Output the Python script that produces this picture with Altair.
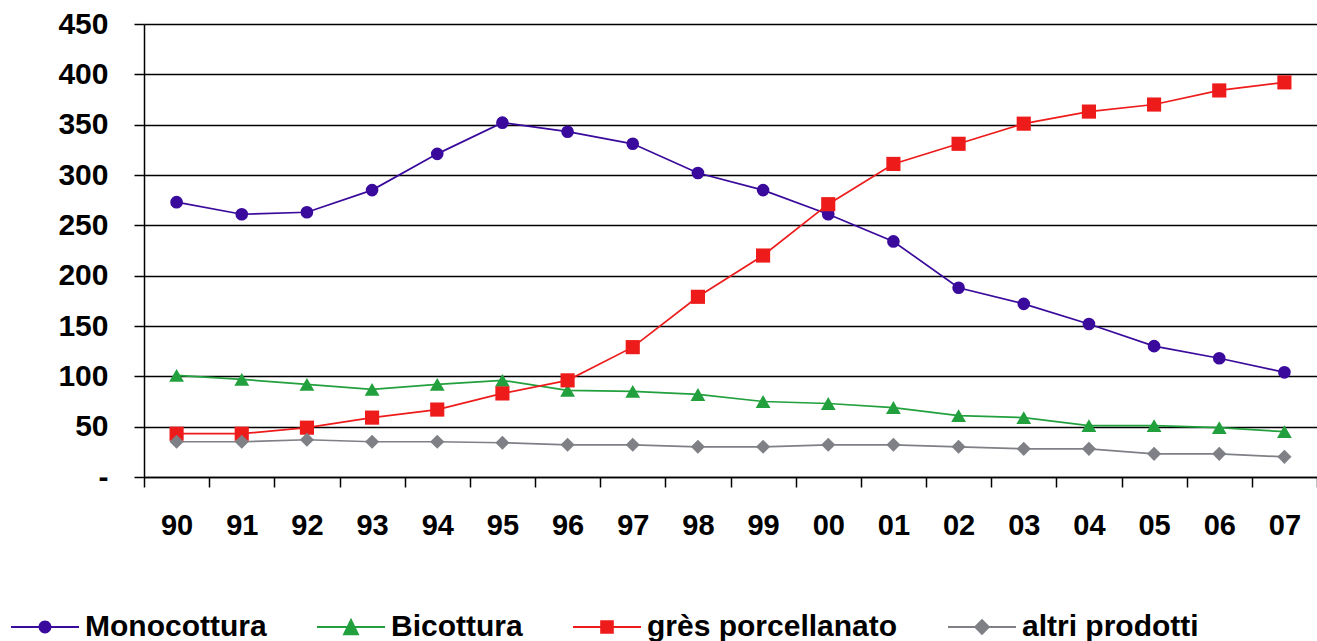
import altair as alt
import pandas as pd

years = ["90", "91", "92", "93", "94", "95", "96", "97", "98", "99",
         "00", "01", "02", "03", "04", "05", "06", "07"]
series = ["Monocottura", "Bicottura", "grès porcellanato", "altri prodotti"]

monocottura = [273, 261, 263, 285, 321, 352, 343, 331, 302, 285,
               261, 234, 188, 172, 152, 130, 118, 104]
bicottura = [101, 97, 92, 87, 92, 96, 86, 85, 82, 75,
             73, 69, 61, 59, 51, 51, 49, 45]
gres = [43, 43, 49, 59, 67, 83, 96, 129, 179, 220,
        271, 311, 331, 351, 363, 370, 384, 392]
altri = [35, 35, 37, 35, 35, 34, 32, 32, 30, 30,
         32, 32, 30, 28, 28, 23, 23, 20]

colors = ["#3A0A9C", "#22A03E", "#EE1B1B", "#7E8086"]
point_shapes = ["circle", "triangle-up", "square", "diamond"]
point_sizes = [160, 220, 200, 200]

LINE = "M-1,-0.03H1V0.03H-1Z"
legend_paths = [
    LINE + "M-0.19,0A0.19,0.19 0 1,1 0.19,0A0.19,0.19 0 1,1 -0.19,0Z",
    LINE + "M0,-0.27L0.25,0.24H-0.25Z",
    LINE + "M-0.2,-0.2H0.2V0.2H-0.2Z",
    LINE + "M0,-0.24L0.24,0L0,0.24L-0.24,0Z",
]

rows = []
for name, vals in zip(series, [monocottura, bicottura, gres, altri]):
    for yr, v in zip(years, vals):
        rows.append({"anno": yr, "valore": v, "serie": name})
df = pd.DataFrame(rows)

FONT = "Liberation Sans"

x_enc = alt.X(
    "anno:N", sort=years,
    scale=alt.Scale(type="band", paddingInner=0, paddingOuter=0),
    axis=alt.Axis(title=None, labelAngle=0, tickBand="extent", grid=False,
                  labelFont=FONT, labelFontSize=29, labelFontWeight="bold",
                  labelColor="black", tickColor="black", tickSize=10,
                  tickWidth=1.5, domainColor="black", domainWidth=1.5,
                  labelPadding=24),
)
y_enc = alt.Y(
    "valore:Q",
    scale=alt.Scale(domain=[0, 450], nice=False),
    axis=alt.Axis(title=None, values=list(range(0, 451, 50)),
                  labelExpr="datum.value == 0 ? '-' : datum.label",
                  labelFont=FONT, labelFontSize=30, labelFontWeight="bold",
                  labelColor="black", tickColor="black", tickSize=10,
                  tickWidth=1.5, domainColor="black", domainWidth=1.5,
                  grid=True, gridColor="black", gridWidth=1.5,
                  labelPadding=26),
)

base = alt.Chart(df)

layers = []
for name, col in zip(series, colors):
    layers.append(
        base.transform_filter(alt.datum.serie == name)
        .mark_line(strokeWidth=1.7, color=col)
        .encode(x=x_enc, y=y_enc)
    )
for name, shp, sz, col in zip(series, point_shapes, point_sizes, colors):
    layers.append(
        base.transform_filter(alt.datum.serie == name)
        .mark_point(filled=True, opacity=1, shape=shp, size=sz, color=col)
        .encode(x=x_enc, y=y_enc)
    )

leg_props = dict(title=None, orient="none", legendX=-133, legendY=569,
                 direction="horizontal", columnPadding=50, labelOffset=6,
                 labelFont=FONT, labelFontSize=30, labelFontWeight="bold",
                 labelColor="black", labelLimit=0, symbolSize=4624,
                 symbolStrokeWidth=0, padding=0)
legend_layer = base.transform_filter("false").mark_point(filled=True, opacity=1, size=4624).encode(
    color=alt.Color("serie:N", scale=alt.Scale(domain=series, range=colors),
                    legend=alt.Legend(**leg_props)),
    shape=alt.Shape("serie:N", scale=alt.Scale(domain=series, range=legend_paths),
                    legend=alt.Legend(**leg_props)),
)
layers.append(legend_layer)

chart = alt.layer(*layers).properties(
    width=1173, height=453,
    autosize=alt.AutoSizeParams(type="none"),
    padding={"left": 144, "top": 24, "right": 0, "bottom": 164},
).configure_view(stroke=None).configure(background="white")

chart.save("out.html", embed_options={"renderer": "svg", "actions": False})
